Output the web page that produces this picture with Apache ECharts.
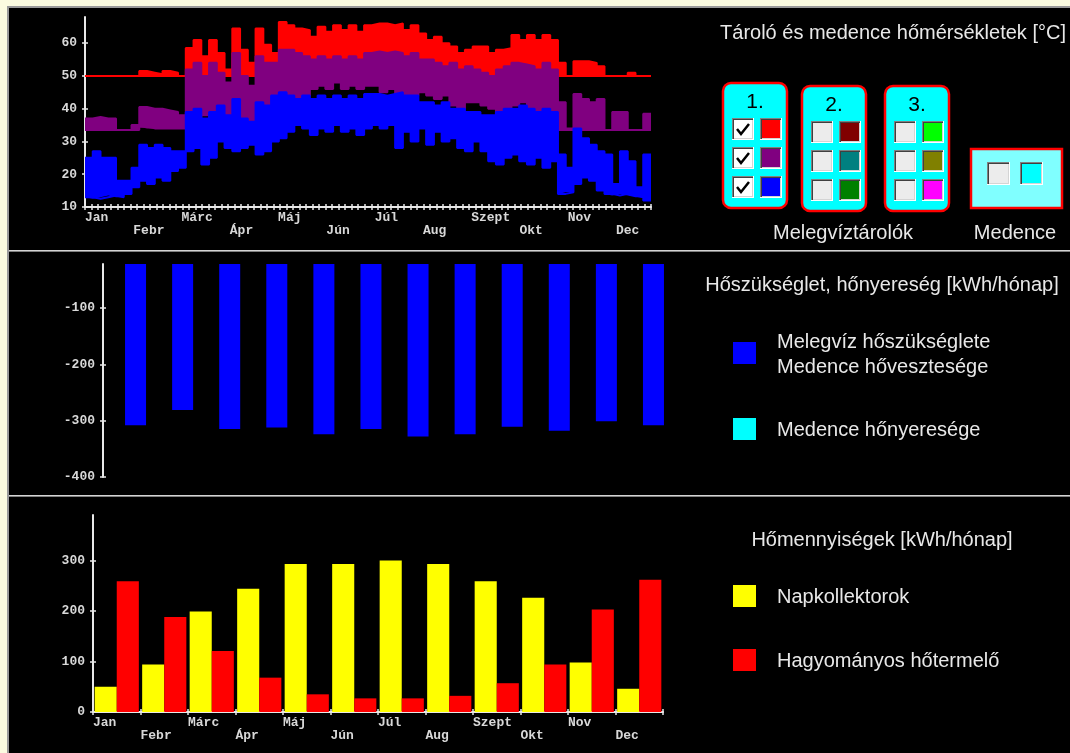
<!DOCTYPE html>
<html>
<head>
<meta charset="utf-8">
<script src="https://cdn.jsdelivr.net/npm/echarts@6/dist/echarts.min.js"></script>
<style>
html, body { margin: 0; padding: 0; background: #000; }
#main { width: 1070px; height: 753px; }
</style>
</head>
<body>
<div id="main"></div>
<script>
var months = ['Jan', 'Febr', 'Márc', 'Ápr', 'Máj', 'Jún', 'Júl', 'Aug', 'Szept', 'Okt', 'Nov', 'Dec'];

// tároló hőmérsékletek, 5 napos szakaszonként (73 db) alsó / felső érték [°C]
var felsoMax = [50,50,50,50,50,50,50,51.5,51,50.5,51.5,51,50,
  58.5,61,56,61,57,52,64.5,58,54,64.5,59.5,57,66.5,65.5,64.5,64,62,65,63.5,65.5,64,65.5,63.5,
  65.5,66,66,65.5,66,64,65.5,63,61,62,60,59,57,58,59,59,57,58,58.5,62.5,61,62.5,61,62.5,61,
  54,50,54.5,54.5,54,53,50,50,50,51,50,50];
var felsoMin = [50,50,50,50,50,50,50,50,50,50,50,50,50,
  50,50,50,51,50,50,51,50,50,52,53,53,55,55,54,55,55,56,55,56,55,56,55,
  56,56,55,56,54,53,55,54,53,53,52,51,51,51,52,51,50,51,51,51,51,51,51,51,50,
  50,50,50,50,50,50,50,50,50,50,50,50];
var kozepMax = [37,37.5,37,37,33.5,33.5,35,40.5,40,40,39.5,39,38,
  52,54,50,54,51,48,57,50,47,56,54,54,58,58,57,56,55,56,55,56,55,56,55,
  57,57.5,57,57.5,57,56,57,55,55,54,53,54,52,53,52,51,50,52,53,54,53.5,53,52,54,52,
  42,34,44.5,43,42,43,33.5,39,39,33.5,33.5,38.5];
var kozepMin = [33.5,33.5,33.5,33.5,33.5,33.5,33.5,34.5,34,34,34,34,34,
  35,37,38,38,36,38,38,34,36,40,40,42,44,42,40,44,46,47,46,48,46,47,46,
  47,47,45,46,42,40,44,45,44,43,44,41,40,42,42,41,40,38,40,41,42,40,38,40,37,
  33.5,33.5,33.5,33.5,33.5,33.5,33.5,33.5,33.5,33.5,33.5,33.5];
var alsoMax = [25,27,25,25,18,18,22,29,28,29,28,27,27,
  39,40,37,39,41,38,43,37,36,42,41,44,45,44,43,44,43,44,43,44,43,44,43,
  44.5,44.5,44,44.5,45,44,44,42,42,41,42,40,40,39,39,38,38,39,40,40,41,40,39,40,39,
  26,22,34,31,29,27,26,17,27,24,16,26];
var alsoMin = [13,12.5,13,13.5,13,14,16,18,17,19,18,21,22,
  27,28,23,25,30,28,27,28,29,26,27,30,31,33,35,34,32,34,33,35,33,34,32,
  34,35,34,35,28,33,30,34,29,33,30,31,28,27,30,27,24,23,25,26,24,23,25,22,24,
  14,14.5,17,19,18,15,14,13.5,14,13.5,13,12];

// havi hőszükséglet [kWh/hónap]
var hoszukseglet = [-308,-281,-315,-312,-324,-315,-328,-324,-311,-318,-301,-308];
// havi hőmennyiségek [kWh/hónap]
var napkollektor = [50,94,199,244,293,293,300,293,259,226,98,46];
var hagyomanyos = [259,188,121,68,35,27,27,32,57,94,203,262];

var tempTicks = [10,20,30,40,50,60];
var szuksegTicks = [-400,-300,-200,-100];
var mennyTicks = [0,100,200,300];

var axisColor = '#e8e8e8';
var labelFont = { color: '#d8d8d8', fontFamily: 'Liberation Mono', fontWeight: 'bold', fontSize: 13 };
var textFont = '20px "Liberation Sans"';

// szakaszok kategóriái (+1 záró pont a lépcsős vonalhoz)
var binCats = [];
for (var i = 0; i <= felsoMax.length; i++) binCats.push(i * 5);

function withEnd(arr) {
    return arr.concat([arr[arr.length - 1]]);
}

function band(lo, hi, color, stack, z) {
    var diff = hi.map(function (v, i) { return v - lo[i]; });
    return [
        { type: 'line', xAxisIndex: 2, yAxisIndex: 0, stack: stack, step: 'end', symbol: 'none', z: z,
          lineStyle: { color: color, width: 2 }, data: withEnd(lo) },
        { type: 'line', xAxisIndex: 2, yAxisIndex: 0, stack: stack, step: 'end', symbol: 'none', z: z,
          lineStyle: { color: color, width: 2 }, areaStyle: { color: color, opacity: 1 },
          data: withEnd(diff) }
    ];
}

var dayTicks = [];
for (var k = 0; k <= 87; k++) dayTicks.push(k * 365 / 87);
var labelDays = [];
for (var k = 0; k < 12; k++) labelDays.push(k * 31.13);
var monthTicks = [];
for (var k = 0; k <= 12; k++) monthTicks.push(k);

function monthLabel(i) {
    return i % 2 ? '\n' + months[i] : months[i];
}

var lineStyle = { color: axisColor, width: 2 };
var tickStyle = { color: axisColor, width: 1.5 };

// graphic: keret, elválasztók, jelmagyarázatok
var g = [];
g.push({ type: 'rect', shape: { x: 0, y: 0, width: 1070, height: 6 }, style: { fill: '#fbfbe0' } });
g.push({ type: 'rect', shape: { x: 0, y: 0, width: 7, height: 753 }, style: { fill: '#fbfbe0' } });
g.push({ type: 'rect', shape: { x: 7, y: 6, width: 1063, height: 2 }, style: { fill: '#9a9a9a' } });
g.push({ type: 'rect', shape: { x: 7, y: 6, width: 2, height: 747 }, style: { fill: '#9a9a9a' } });
[250, 495].forEach(function (y) {
    g.push({ type: 'rect', shape: { x: 9, y: y, width: 1061, height: 1 }, style: { fill: '#d4d4d4' } });
    g.push({ type: 'rect', shape: { x: 9, y: y + 1, width: 1061, height: 1 }, style: { fill: '#808080' } });
});

function txt(x, y, s, align, font, fill) {
    g.push({ type: 'text', x: x, y: y, z: 10, style: { text: s, fill: fill || '#e8e8e8', font: font || textFont,
        align: align || 'left', verticalAlign: 'middle' } });
}
function rect(x, y, w, h, fill) {
    g.push({ type: 'rect', z: 10, shape: { x: x, y: y, width: w, height: h }, style: { fill: fill } });
}
function sunken(x, y, s, inner) {
    rect(x, y, s, s, '#ffffff');
    rect(x, y, s - 1, s - 1, '#808080');
    rect(x + 1, y + 1, s - 2, s - 2, '#404040');
    rect(x + 2, y + 2, s - 3, s - 3, '#d4d4d4');
    rect(x + 2, y + 2, s - 4, s - 4, inner);
}

txt(893, 33, 'Tároló és medence hőmérsékletek [°C]', 'center');
var boxX = [723, 802, 885];
var boxTop = [83, 86, 86];
var swatches = [['#ff0000', '#800080', '#0000ff'], ['#800000', '#008080', '#008000'], ['#00ff00', '#808000', '#ff00ff']];
boxX.forEach(function (bx, b) {
    g.push({ type: 'rect', z: 10, shape: { x: bx, y: boxTop[b], width: 64, height: 125, r: 8 },
        style: { fill: '#00ffff', stroke: '#ff0000', lineWidth: 2.5 } });
    txt(bx + 32, boxTop[b] + 19, (b + 1) + '.', 'center', '21px "Liberation Sans"', '#000');
    for (var r = 0; r < 3; r++) {
        var ry = boxTop[b] + 35 + r * 29;
        sunken(bx + 9, ry, 22, b === 0 ? '#ffffff' : '#ececec');
        if (b === 0) {
            g.push({ type: 'polyline', z: 11, shape: { points: [[bx + 14, ry + 11], [bx + 18, ry + 16], [bx + 26, ry + 6]] },
                style: { stroke: '#000', lineWidth: 2.5, fill: null } });
        }
        sunken(bx + 37, ry, 22, swatches[b][r]);
    }
});
g.push({ type: 'rect', z: 10, shape: { x: 971, y: 149, width: 91, height: 59 },
    style: { fill: '#80ffff', stroke: '#ff0000', lineWidth: 2.5 } });
sunken(987, 162, 23, '#ececec');
sunken(1020, 162, 23, '#00ffff');
txt(843, 233, 'Melegvíztárolók', 'center');
txt(1015, 233, 'Medence', 'center');

txt(882, 285, 'Hőszükséglet, hőnyereség [kWh/hónap]', 'center');
rect(733, 342, 23, 22, '#0000ff');
txt(777, 342, 'Melegvíz hőszükséglete');
txt(777, 367, 'Medence hővesztesége');
rect(733, 418, 23, 22, '#00ffff');
txt(777, 430, 'Medence hőnyeresége');

txt(882, 540, 'Hőmennyiségek [kWh/hónap]', 'center');
rect(733, 585, 23, 22, '#ffff00');
txt(777, 597, 'Napkollektorok');
rect(733, 649, 23, 22, '#ff0000');
txt(777, 661, 'Hagyományos hőtermelő');

var chart = echarts.init(document.getElementById('main'));
var option = {
    backgroundColor: '#000',
    animation: false,
    grid: [
        { left: 85, top: 17, width: 566, height: 190 },
        { left: 112, top: 264, width: 565, height: 213 },
        { left: 93, top: 515, width: 570, height: 197 }
    ],
    xAxis: [
        { type: 'value', gridIndex: 0, position: 'bottom', min: 0, max: 365,
          axisLine: { show: true, onZero: false, lineStyle: lineStyle },
          axisTick: { show: true, customValues: dayTicks, length: 3, lineStyle: tickStyle },
          axisLabel: Object.assign({ customValues: labelDays, align: 'left', margin: 4, lineHeight: 13,
              formatter: function (v) { return monthLabel(Math.round(v / 31.13)); } }, labelFont),
          splitLine: { show: false } },
        { type: 'value', gridIndex: 0, position: 'bottom', min: 0, max: 365,
          axisLine: { show: false, onZero: false },
          axisTick: { show: true, inside: true, customValues: dayTicks, length: 3, lineStyle: tickStyle },
          axisLabel: { show: false }, splitLine: { show: false } },
        { type: 'category', gridIndex: 0, position: 'bottom', data: binCats, boundaryGap: false, show: false },
        { type: 'category', gridIndex: 1, data: months, show: false },
        { type: 'category', gridIndex: 2, position: 'bottom', data: months,
          axisLine: { show: true, onZero: false, lineStyle: lineStyle },
          axisTick: { show: true, length: 3, lineStyle: tickStyle },
          axisLabel: { show: false } },
        { type: 'value', gridIndex: 2, position: 'bottom', min: 0, max: 12,
          axisLine: { show: false, onZero: false },
          axisTick: { show: true, inside: true, customValues: monthTicks, length: 3, lineStyle: tickStyle },
          axisLabel: Object.assign({ customValues: monthTicks.slice(0, 12), align: 'left', margin: 4, lineHeight: 13,
              formatter: function (v) { return monthLabel(Math.round(v)); } }, labelFont),
          splitLine: { show: false } }
    ],
    yAxis: [
        { type: 'value', gridIndex: 0, position: 'left', min: 10, max: 68,
          axisLine: { show: true, onZero: false, lineStyle: lineStyle },
          axisTick: { show: true, customValues: tempTicks, length: 3, lineStyle: tickStyle },
          axisLabel: Object.assign({ customValues: tempTicks, margin: 8 }, labelFont),
          splitLine: { show: false } },
        { type: 'value', gridIndex: 0, position: 'left', min: 10, max: 68,
          axisLine: { show: false, onZero: false },
          axisTick: { show: true, inside: true, customValues: tempTicks, length: 3, lineStyle: tickStyle },
          axisLabel: { show: false }, splitLine: { show: false } },
        { type: 'value', gridIndex: 1, position: 'left', min: -400, max: -22, offset: 9,
          axisLine: { show: true, onZero: false, lineStyle: lineStyle },
          axisTick: { show: true, customValues: szuksegTicks, length: 3, lineStyle: tickStyle },
          axisLabel: Object.assign({ customValues: szuksegTicks, margin: 8 }, labelFont),
          splitLine: { show: false } },
        { type: 'value', gridIndex: 1, position: 'left', min: -400, max: -22, offset: 9,
          axisLine: { show: false, onZero: false },
          axisTick: { show: true, inside: true, customValues: szuksegTicks, length: 3, lineStyle: tickStyle },
          axisLabel: { show: false }, splitLine: { show: false } },
        { type: 'value', gridIndex: 2, position: 'left', min: 0, max: 390,
          axisLine: { show: true, onZero: false, lineStyle: lineStyle },
          axisTick: { show: true, customValues: mennyTicks, length: 3, lineStyle: tickStyle },
          axisLabel: Object.assign({ customValues: mennyTicks, margin: 8 }, labelFont),
          splitLine: { show: false } },
        { type: 'value', gridIndex: 2, position: 'left', min: 0, max: 390,
          axisLine: { show: false, onZero: false },
          axisTick: { show: true, inside: true, customValues: mennyTicks, length: 3, lineStyle: tickStyle },
          axisLabel: { show: false }, splitLine: { show: false } }
    ],
    series: [].concat(
        band(felsoMin, felsoMax, '#ff0000', 'felso', 2),
        band(kozepMin, kozepMax, '#800080', 'kozep', 3),
        band(alsoMin, alsoMax, '#0000ff', 'also', 4),
        [
            { name: 'Melegvíz hőszükséglete', type: 'bar', xAxisIndex: 3, yAxisIndex: 2, barWidth: 21,
              itemStyle: { color: '#0000ff' }, data: hoszukseglet },
            { name: 'Napkollektorok', type: 'bar', xAxisIndex: 4, yAxisIndex: 4, barGap: '0%', barCategoryGap: '7%',
              itemStyle: { color: '#ffff00' }, data: napkollektor },
            { name: 'Hagyományos hőtermelő', type: 'bar', xAxisIndex: 4, yAxisIndex: 4, barGap: '0%', barCategoryGap: '7%',
              itemStyle: { color: '#ff0000' }, data: hagyomanyos }
        ]
    ),
    graphic: g
};
chart.setOption(option);
</script>
</body>
</html>
